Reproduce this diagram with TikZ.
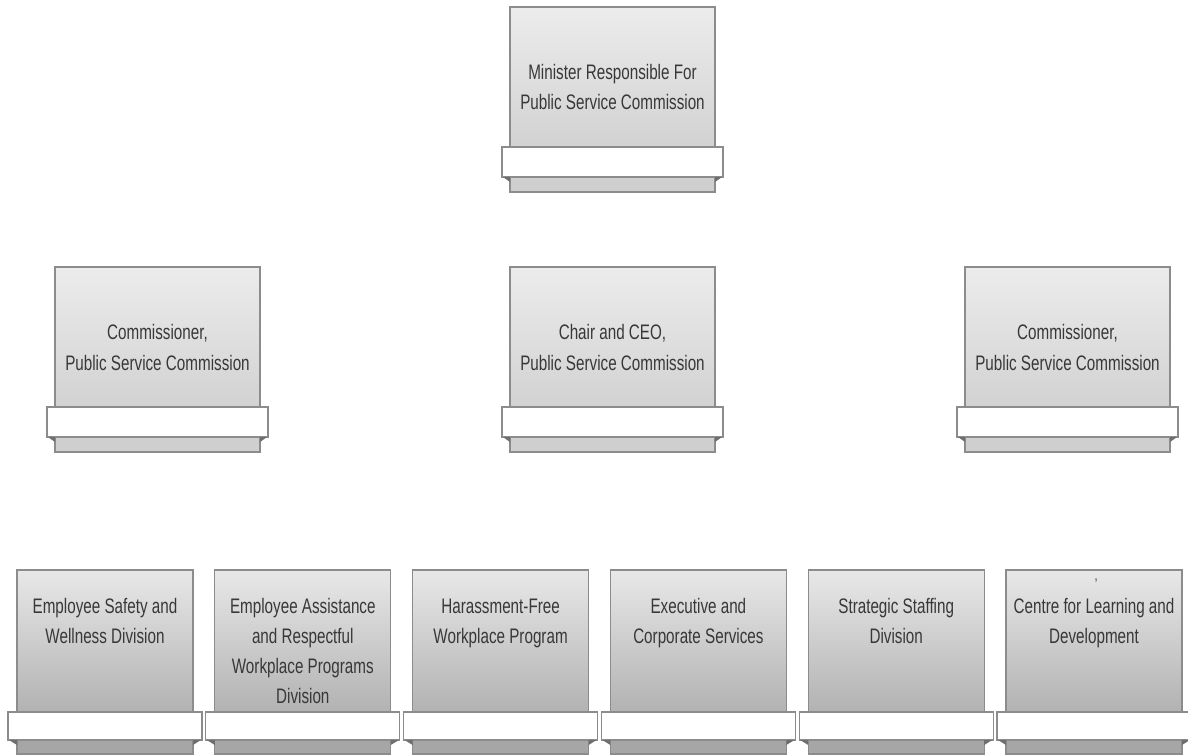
\documentclass[tikz,border=0pt]{standalone}
\usepackage{fontspec}
\setmainfont{Liberation Sans}[FakeStretch=0.725]
\definecolor{bordercol}{HTML}{8C8C8C}
\definecolor{txtcol}{HTML}{383838}
\definecolor{gtopA}{HTML}{ECECEC}
\definecolor{gbotA}{HTML}{D2D2D2}
\definecolor{stripA}{HTML}{CFCFCF}
\definecolor{gtopB}{HTML}{E8E8E8}
\definecolor{gbotB}{HTML}{B2B2B2}
\definecolor{stripB}{HTML}{A6A6A6}
\definecolor{foldcol}{HTML}{6E6E6E}
\newcommand\orgunit[6]{%
  % #1 name, #2 left, #3 top, #4 width, #5 row letter (A/B), #6 text
  \node[unitbox, minimum width=#4pt, minimum height=\gh pt,
        top color=gtop#5, bottom color=gbot#5] (#1) at (#2,#3) {};
  \draw[stripbox, fill=strip#5] (#2,#3+\gh+\bh) rectangle (#2+#4,#3+\gh+\bh+\sh);
  \draw[barbox] (#2-\bo,#3+\gh) rectangle (#2+#4+\bo,#3+\gh+\bh);
  \fill[foldcol] (#2-\bo+1,#3+\gh+\bh) -- (#2,#3+\gh+\bh) -- (#2,#3+\gh+\bh+5) -- cycle;
  \fill[foldcol] (#2+#4+\bo-1,#3+\gh+\bh) -- (#2+#4,#3+\gh+\bh) -- (#2+#4,#3+\gh+\bh+5) -- cycle;
  \node[unittext] (#1-t) at (#2+#4/2,#3+\tb)
    {\parbox[t]{#4pt}{\centering\fontsize{21}{\ls}\selectfont #6}};
}
\begin{document}
\begin{tikzpicture}[x=1pt,y=-1pt,
  unitbox/.style={draw=bordercol, line width=1.3pt, inner sep=0pt, outer sep=0pt, anchor=north west},
  stripbox/.style={draw=bordercol, line width=1.3pt},
  barbox/.style={draw=bordercol, line width=1.3pt, fill=white},
  unittext/.style={anchor=base, inner sep=0pt, text=txtcol},
]
\useasboundingbox (0,0) rectangle (1188,755);
\fill[white] (0,0) rectangle (1188,755);
% top and middle rows
\def\gh{140}\def\bh{30}\def\sh{15}\def\bo{8}\def\tb{72}\def\ls{30}
\orgunit{min}{510}{7}{205}{A}{Minister Responsible For\\Public Service Commission}
\def\ls{31}
\orgunit{comL}{55}{267}{205}{A}{Commissioner,\\Public Service Commission}
\orgunit{chair}{510}{267}{205}{A}{Chair and CEO,\\Public Service Commission}
\orgunit{comR}{965}{267}{205}{A}{Commissioner,\\Public Service Commission}
% bottom row
\def\gh{142}\def\bh{28}\def\sh{14}\def\bo{9}\def\tb{43}\def\ls{30}
\orgunit{d1}{17}{570}{176}{B}{Employee Safety and\\Wellness Division}
\orgunit{d2}{214.8}{570}{176}{B}{Employee Assistance\\and Respectful\\Workplace Programs\\Division}
\orgunit{d3}{412.6}{570}{176}{B}{Harassment-Free\\Workplace Program}
\orgunit{d4}{610.4}{570}{176}{B}{Executive and\\Corporate Services}
\orgunit{d5}{808.2}{570}{176}{B}{Strategic Staffing\\Division}
\orgunit{d6}{1006}{570}{176}{B}{Centre for Learning and\\Development}
\node[unittext, font=\fontsize{15}{16}\selectfont] (d6c) at (1096,580) {,};
\end{tikzpicture}
\end{document}
